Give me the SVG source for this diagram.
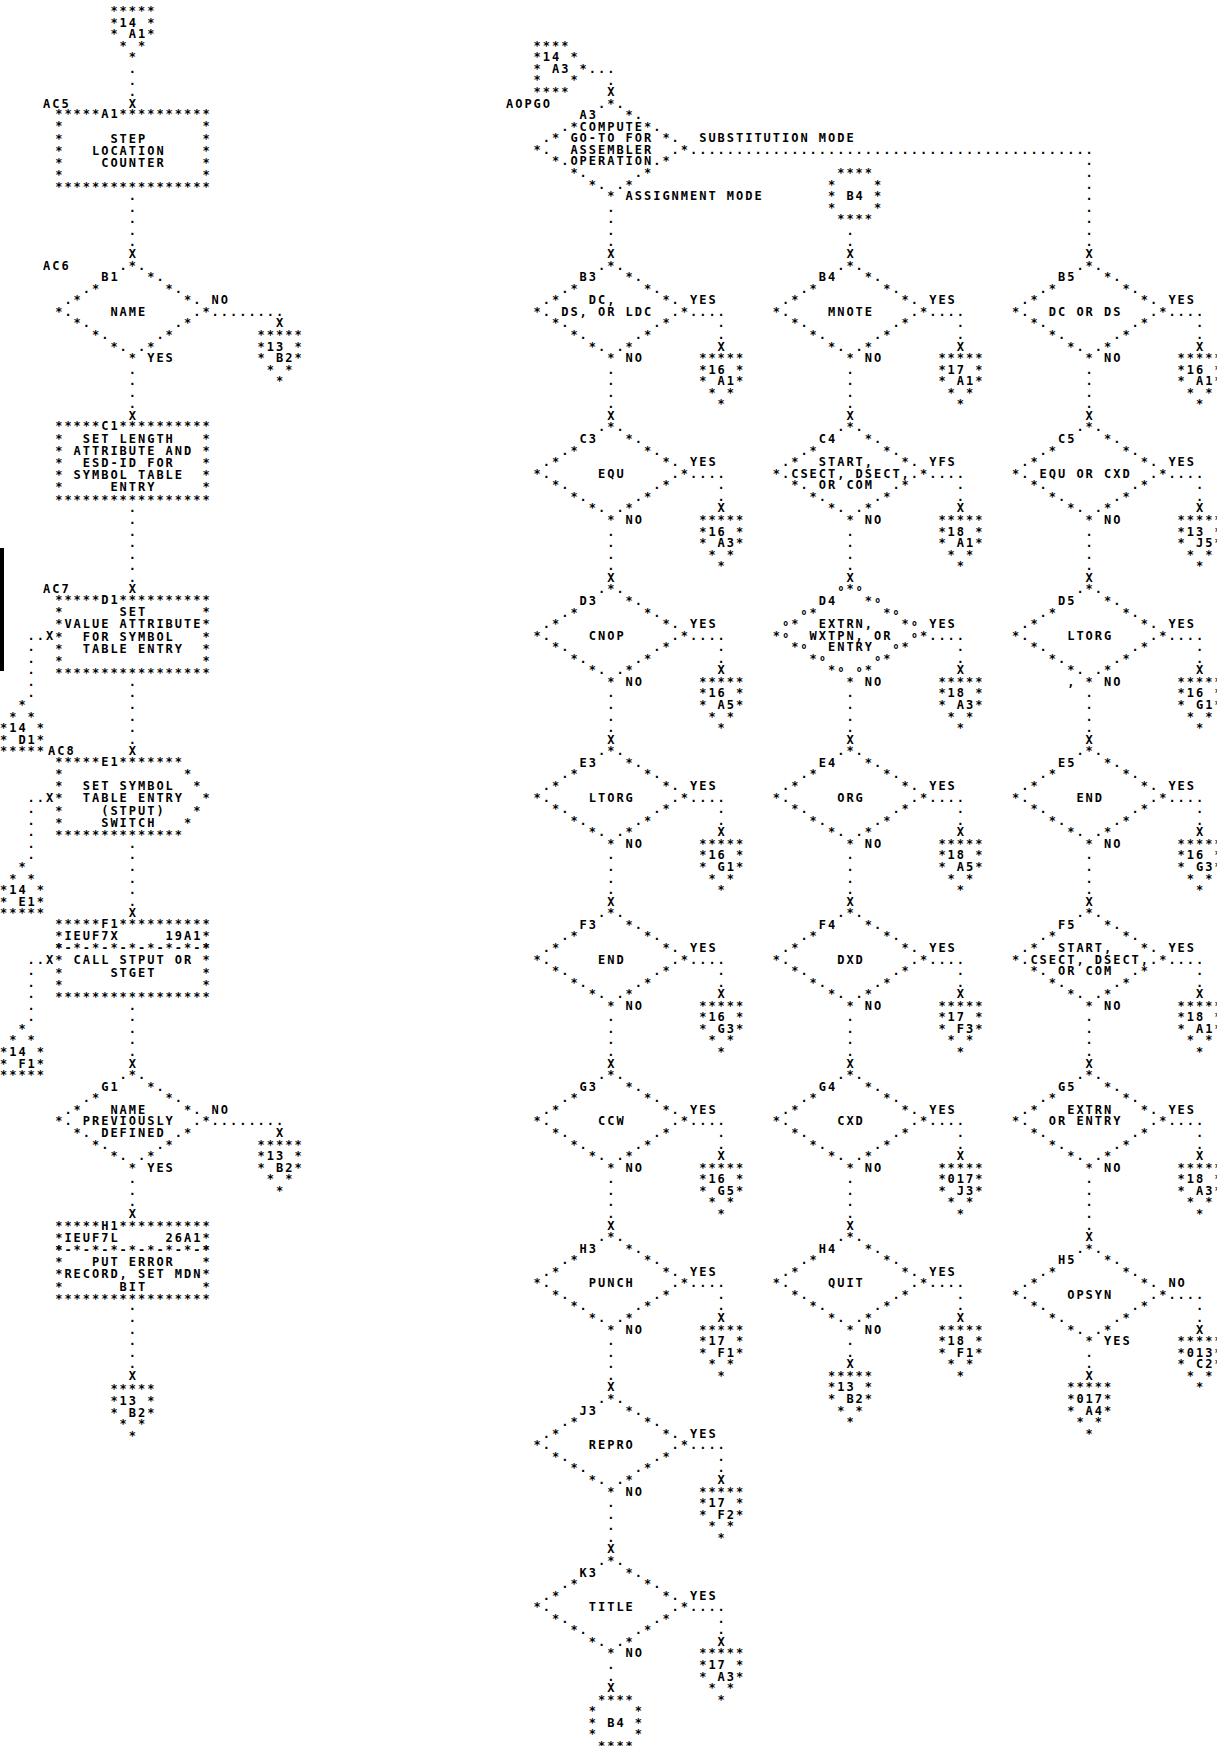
<svg xmlns="http://www.w3.org/2000/svg" width="1217" height="1746" viewBox="0 0 1217 1746">
<style>
.t{font-family:"DejaVu Sans Mono","Liberation Mono",monospace;font-size:12px;font-weight:bold;letter-spacing:1.975px;fill:#000}
.o{font-family:"DejaVu Sans Mono","Liberation Mono",monospace;font-size:8px;font-weight:bold;letter-spacing:4.4px;fill:#000}
</style>
<defs>
<g id="dia" class="t">
<text x="64.4" y="0">.*.</text>
<text x="92" y="11.566">*.</text>
<text x="27.6" y="23.132">.*</text><text x="110.4" y="23.132">*.</text>
<text x="9.2" y="34.698">.*</text><text x="128.8" y="34.698">*.</text>
<text x="0" y="46.264">*.</text><text x="138" y="46.264">.*</text>
<text x="18.4" y="57.83">*.</text><text x="119.6" y="57.83">.*</text>
<text x="36.8" y="69.396">*.</text><text x="101.2" y="69.396">.*</text>
<text x="55.2" y="80.962">*.</text><text x="82.8" y="80.962">.*</text>
<text x="73.6" y="92.528">*</text>
</g>
<g id="diaO" class="t">
<text x="73.6" y="0">*</text>
<text x="92" y="11.566">*</text>
<text x="36.8" y="23.132">*</text><text x="110.4" y="23.132">*</text>
<text x="18.4" y="34.698">*</text><text x="128.8" y="34.698">*</text>
<text x="0" y="46.264">*</text><text x="147.2" y="46.264">*</text>
<text x="18.4" y="57.83">*</text><text x="128.8" y="57.83">*</text>
<text x="36.8" y="69.396">*</text><text x="110.4" y="69.396">*</text>
<text x="55.2" y="80.962">*</text><text x="92" y="80.962">*</text>
<text x="73.6" y="92.528">*</text>
<text class="o" x="65.6 84 102.4 28.8 120.8 10.4 139.2 10.4 139.2 28.8 120.8 47.2 102.4 65.6 84" y="-2 -2 9.566 21.132 21.132 32.698 32.698 44.264 44.264 55.83 55.83 67.396 67.396 78.962 78.962">ooooooooooooooo</text>
</g>
<g id="bx" class="t">
<text x="0" y="12.2">*</text><text x="147.2" y="12.2">*</text>
<text x="0" y="24.4">*</text><text x="147.2" y="24.4">*</text>
<text x="0" y="36.6">*</text><text x="147.2" y="36.6">*</text>
<text x="0" y="48.8">*</text><text x="147.2" y="48.8">*</text>
<text x="0" y="61">*</text><text x="147.2" y="61">*</text>
<text x="0" y="73.2">*****************</text>
</g>
<g id="opd" class="t">
<text x="0" y="0">*****</text>
<text x="0" y="11.566">*</text><text x="36.8" y="11.566">*</text>
<text x="0" y="23.132">*</text><text x="36.8" y="23.132">*</text>
<text x="9.2" y="34.698">*</text><text x="27.6" y="34.698">*</text>
<text x="18.4" y="46.264">*</text>
</g>
<g id="opu" class="t">
<text x="18.4" y="0">*</text>
<text x="9.2" y="11.566">*</text><text x="27.6" y="11.566">*</text>
<text x="0" y="23.132">*</text><text x="36.8" y="23.132">*</text>
<text x="0" y="34.698">*</text><text x="36.8" y="34.698">*</text>
<text x="0" y="46.264">*****</text>
</g>
<g id="onp" class="t">
<text x="9.2" y="0">****</text>
<text x="0" y="11.566">*</text><text x="46" y="11.566">*</text>
<text x="0" y="23.132">*</text><text x="46" y="23.132">*</text>
<text x="0" y="34.698">*</text><text x="46" y="34.698">*</text>
<text x="9.2" y="46.264">****</text>
</g>
<g id="exitR" class="t">
<text x="156.4" y="46.264">....</text>
<text x="184" y="57.83">.</text>
<text x="184" y="69.396">.</text>
<text x="184" y="80.962">X</text>
</g>
<g id="exitD" class="t">
<text x="73.6" y="104.094">.</text>
<text x="73.6" y="115.66">.</text>
<text x="73.6" y="127.226">.</text>
<text x="73.6" y="138.792">.</text>
<text x="73.6" y="150.358">X</text>
</g>
<g id="exitL" class="t">
<text x="156.4" y="46.264">........</text>
<text x="220.8" y="57.83">X</text>
</g>
</defs>
<rect x="0" y="0" width="1217" height="1746" fill="#ffffff"/>
<rect x="0" y="548" width="4" height="123" fill="#000"/>
<g class="t">

<g id="connectors">
<text x="128.8 128.8 128.8 128.8" y="72.93 84.50 96.06 107.63">...X</text>
<text x="128.8 128.8 128.8 128.8 128.8 128.8" y="200.16 211.72 223.29 234.85 246.42 257.99">.....X</text>
<text x="128.8 128.8 128.8 128.8 128.8" y="373.65 385.21 396.78 408.34 419.91">....X</text>
<text x="128.8 128.8 128.8 128.8 128.8 128.8 128.8 128.8" y="512.44 524.00 535.57 547.14 558.70 570.27 581.83 593.40">.......X</text>
<text x="128.8 128.8 128.8 128.8 128.8 128.8 128.8" y="685.93 697.49 709.06 720.63 732.19 743.76 755.32">......X</text>
<text x="128.8 128.8 128.8 128.8 128.8 128.8 128.8" y="847.85 859.42 870.98 882.55 894.12 905.68 917.25">......X</text>
<text x="128.8 128.8 128.8 128.8 128.8 128.8" y="1009.78 1021.34 1032.91 1044.47 1056.04 1067.61">.....X</text>
<text x="128.8 128.8 128.8 128.8" y="1183.27 1194.83 1206.40 1217.96">...X</text>
<text x="128.8 128.8 128.8 128.8 128.8 128.8 128.8" y="1310.49 1322.06 1333.62 1345.19 1356.76 1368.32 1379.89">......X</text>
<text x="27.6" y="639.66">..X</text>
<text x="27.6 27.6 27.6 27.6 27.6" y="651.23 662.80 674.36 685.93 697.49">.....</text>
<text x="27.6" y="801.59">..X</text>
<text x="27.6 27.6 27.6 27.6 27.6" y="813.15 824.72 836.29 847.85 859.42">.....</text>
<text x="27.6" y="963.51">..X</text>
<text x="27.6 27.6 27.6 27.6 27.6" y="975.08 986.64 998.21 1009.78 1021.34">.....</text>
<use href="#exitL" x="55.2" y="269.55"/>
<use href="#exitL" x="55.2" y="1079.17"/>
<text x="588.8" y="72.93">...</text>
<text x="607.2 607.2" y="84.50 96.06">.X</text>
<text x="607.2 607.2 607.2 607.2 607.2" y="211.72 223.29 234.85 246.42 257.99">....X</text>
<text x="690" y="153.89">............................................</text>
<text x="1085.6 1085.6 1085.6 1085.6 1085.6 1085.6 1085.6 1085.6 1085.6" y="165.46 177.02 188.59 200.16 211.72 223.29 234.85 246.42 257.99">........X</text>
<text x="846.4 846.4 846.4" y="234.85 246.42 257.99">..X</text>
<use href="#exitR" x="533.6" y="269.55"/><use href="#exitR" x="533.6" y="431.48"/><use href="#exitR" x="533.6" y="593.40"/><use href="#exitR" x="533.6" y="755.32"/><use href="#exitR" x="533.6" y="917.25"/><use href="#exitR" x="533.6" y="1079.17"/><use href="#exitR" x="533.6" y="1241.10"/><use href="#exitR" x="533.6" y="1403.02"/><use href="#exitR" x="533.6" y="1564.94"/>
<use href="#exitR" x="772.8" y="269.55"/><use href="#exitR" x="772.8" y="431.48"/><use href="#exitR" x="772.8" y="593.40"/><use href="#exitR" x="772.8" y="755.32"/><use href="#exitR" x="772.8" y="917.25"/><use href="#exitR" x="772.8" y="1079.17"/><use href="#exitR" x="772.8" y="1241.10"/>
<use href="#exitR" x="1012" y="269.55"/><use href="#exitR" x="1012" y="431.48"/><use href="#exitR" x="1012" y="593.40"/><use href="#exitR" x="1012" y="755.32"/><use href="#exitR" x="1012" y="917.25"/><use href="#exitR" x="1012" y="1079.17"/><use href="#exitR" x="1012" y="1252.66"/>
<use href="#exitD" x="533.6" y="269.55"/><use href="#exitD" x="533.6" y="431.48"/><use href="#exitD" x="533.6" y="593.40"/><use href="#exitD" x="533.6" y="755.32"/><use href="#exitD" x="533.6" y="917.25"/><use href="#exitD" x="533.6" y="1079.17"/><use href="#exitD" x="533.6" y="1241.10"/><use href="#exitD" x="533.6" y="1403.02"/>
<use href="#exitD" x="772.8" y="269.55"/><use href="#exitD" x="772.8" y="431.48"/><use href="#exitD" x="772.8" y="593.40"/><use href="#exitD" x="772.8" y="755.32"/><use href="#exitD" x="772.8" y="917.25"/><use href="#exitD" x="772.8" y="1079.17"/>
<use href="#exitD" x="1012" y="269.55"/><use href="#exitD" x="1012" y="431.48"/><use href="#exitD" x="1012" y="593.40"/><use href="#exitD" x="1012" y="755.32"/><use href="#exitD" x="1012" y="917.25"/>
<text x="1085.6 1085.6 1085.6 1085.6 1085.6 1085.6" y="1183.27 1194.83 1206.40 1217.96 1229.53 1241.10">.....X</text>
<text x="846.4 846.4 846.4" y="1345.19 1356.76 1368.32">..X</text>
<text x="607.2 607.2 607.2" y="1669.04 1680.60 1692.17">..X</text>
<text x="1085.6 1085.6 1085.6" y="1356.76 1368.32 1379.89">..X</text>
</g>

<g id="off-14A1" transform="translate(110.4,15.1)"><use href="#opd"/><text x="9.2" y="11.566">14</text><text x="18.4" y="23.132">A1</text></g>
<g id="A1" transform="translate(55.2,118.19)"><use href="#bx"/>
<text x="-12.2" y="-10.566">AC5</text>
<text x="0" y="0">*****A1**********</text>
<text x="55.2" y="24.4">STEP</text>
<text x="36.8" y="36.6">LOCATION</text>
<text x="46" y="48.8">COUNTER</text>
</g>
<g id="B1" transform="translate(55.2,269.55)"><use href="#dia"/><text x="-12.2" y="0">AC6</text><text x="46" y="11.566">B1</text><text x="55.2" y="46.264">NAME</text><text x="156.4" y="34.698">NO</text><text x="92" y="92.528">YES</text></g>
<g id="off-B1-13B2" transform="translate(257.6,338.95)"><use href="#opd"/><text x="9.2" y="11.566">13</text><text x="18.4" y="23.132">B2</text></g>
<g id="C1" transform="translate(55.2,430.48)"><use href="#bx"/>
<text x="0" y="0">*****C1**********</text>
<text x="27.6" y="12.2">SET LENGTH</text>
<text x="18.4" y="24.4">ATTRIBUTE AND</text>
<text x="27.6" y="36.6">ESD-ID FOR</text>
<text x="18.4" y="48.8">SYMBOL TABLE</text>
<text x="55.2" y="61">ENTRY</text>
</g>
<g id="D1" transform="translate(55.2,603.97)"><use href="#bx"/>
<text x="-12.2" y="-10.566">AC7</text>
<text x="0" y="0">*****D1**********</text>
<text x="64.4" y="12.2">SET</text>
<text x="9.2" y="24.4">VALUE ATTRIBUTE</text>
<text x="27.6" y="36.6">FOR SYMBOL</text>
<text x="27.6" y="48.8">TABLE ENTRY</text>
</g>
<g id="off-14D1" transform="translate(0,709.06)"><use href="#opu"/><text x="9.2" y="23.132">14</text><text x="18.4" y="34.698">D1</text></g>
<g id="E1" transform="translate(55.2,765.89)">
<text x="-7.2" y="-10.566">AC8</text>
<text x="0" y="0">*****E1*******</text>
<text x="0" y="12.2">*</text><text x="128.8" y="12.2">*</text>
<text x="0" y="24.4">*</text><text x="27.6" y="24.4">SET SYMBOL</text><text x="138" y="24.4">*</text>
<text x="0" y="36.6">*</text><text x="27.6" y="36.6">TABLE ENTRY</text><text x="147.2" y="36.6">*</text>
<text x="0" y="48.8">*</text><text x="46" y="48.8">(STPUT)</text><text x="138" y="48.8">*</text>
<text x="0" y="61">*</text><text x="46" y="61">SWITCH</text><text x="128.8" y="61">*</text>
<text x="0" y="73.2">**************</text>
</g>
<g id="off-14E1" transform="translate(0,870.98)"><use href="#opu"/><text x="9.2" y="23.132">14</text><text x="18.4" y="34.698">E1</text></g>
<g id="F1" transform="translate(55.2,927.81)"><use href="#bx"/>
<text x="0" y="0">*****F1**********</text>
<text x="9.2" y="12.2">IEUF7X</text><text x="110.4" y="12.2">19A1</text>
<text x="0" y="24.4">*-*-*-*-*-*-*-*-*</text>
<text x="18.4" y="36.6">CALL STPUT OR</text>
<text x="55.2" y="48.8">STGET</text>
</g>
<g id="off-14F1" transform="translate(0,1032.91)"><use href="#opu"/><text x="9.2" y="23.132">14</text><text x="18.4" y="34.698">F1</text></g>
<g id="G1" transform="translate(55.2,1079.17)"><use href="#dia"/><text x="46" y="11.566">G1</text><text x="55.2" y="34.698">NAME</text><text x="27.6" y="46.264">PREVIOUSLY</text><text x="46" y="57.83">DEFINED</text><text x="156.4" y="34.698">NO</text><text x="92" y="92.528">YES</text></g>
<g id="off-G1-13B2" transform="translate(257.6,1148.57)"><use href="#opd"/><text x="9.2" y="11.566">13</text><text x="18.4" y="23.132">B2</text></g>
<g id="H1" transform="translate(55.2,1229.53)"><use href="#bx"/>
<text x="0" y="0">*****H1**********</text>
<text x="9.2" y="12.2">IEUF7L</text><text x="110.4" y="12.2">26A1</text>
<text x="0" y="24.4">*-*-*-*-*-*-*-*-*</text>
<text x="36.8" y="36.6">PUT ERROR</text>
<text x="9.2" y="48.8">RECORD, SET MDN</text>
<text x="64.4" y="61">BIT</text>
</g>
<g id="off-H1-13B2" transform="translate(110.4,1393.45)"><use href="#opd"/><text x="9.2" y="11.566">13</text><text x="18.4" y="23.132">B2</text></g>

<g id="on-14A3" transform="translate(533.6,49.80)">
<text x="0" y="0">****</text>
<text x="0" y="11.566">*14 *</text>
<text x="0" y="23.132">* A3 *</text>
<text x="0" y="34.698">*</text><text x="36.8" y="34.698">*</text>
<text x="0" y="46.264">****</text>
</g>
<g id="A3" transform="translate(533.6,107.63)"><use href="#dia"/><text x="-27.6" y="0">AOPGO</text><text x="46" y="11.566">A3</text><text x="46" y="23.132">COMPUTE</text><text x="36.8" y="34.698">GO-TO FOR</text><text x="36.8" y="46.264">ASSEMBLER</text><text x="36.8" y="57.83">OPERATION</text><text x="165.6" y="34.698">SUBSTITUTION MODE</text><text x="92" y="92.528">ASSIGNMENT MODE</text></g>
<g id="on-B4-top" transform="translate(828,177.02)"><use href="#onp"/><text x="18.4" y="23.132">B4</text></g>

<g id="B3" transform="translate(533.6,269.55)"><use href="#dia"/><text x="46" y="11.566">B3</text><text x="55.2" y="34.698">DC,</text><text x="27.6" y="46.264">DS, OR LDC</text><text x="156.4" y="34.698">YES</text><text x="92" y="92.528">NO</text></g>
<g id="C3" transform="translate(533.6,431.48)"><use href="#dia"/><text x="46" y="11.566">C3</text><text x="64.4" y="46.264">EQU</text><text x="156.4" y="34.698">YES</text><text x="92" y="92.528">NO</text></g>
<g id="D3" transform="translate(533.6,593.40)"><use href="#dia"/><text x="46" y="11.566">D3</text><text x="55.2" y="46.264">CNOP</text><text x="156.4" y="34.698">YES</text><text x="92" y="92.528">NO</text></g>
<g id="E3" transform="translate(533.6,755.32)"><use href="#dia"/><text x="46" y="11.566">E3</text><text x="55.2" y="46.264">LTORG</text><text x="156.4" y="34.698">YES</text><text x="92" y="92.528">NO</text></g>
<g id="F3" transform="translate(533.6,917.25)"><use href="#dia"/><text x="46" y="11.566">F3</text><text x="64.4" y="46.264">END</text><text x="156.4" y="34.698">YES</text><text x="92" y="92.528">NO</text></g>
<g id="G3" transform="translate(533.6,1079.17)"><use href="#dia"/><text x="46" y="11.566">G3</text><text x="64.4" y="46.264">CCW</text><text x="156.4" y="34.698">YES</text><text x="92" y="92.528">NO</text></g>
<g id="H3" transform="translate(533.6,1241.10)"><use href="#dia"/><text x="46" y="11.566">H3</text><text x="55.2" y="46.264">PUNCH</text><text x="156.4" y="34.698">YES</text><text x="92" y="92.528">NO</text></g>
<g id="J3" transform="translate(533.6,1403.02)"><use href="#dia"/><text x="46" y="11.566">J3</text><text x="55.2" y="46.264">REPRO</text><text x="156.4" y="34.698">YES</text><text x="92" y="92.528">NO</text></g>
<g id="K3" transform="translate(533.6,1564.94)"><use href="#dia"/><text x="46" y="11.566">K3</text><text x="55.2" y="46.264">TITLE</text><text x="156.4" y="34.698">YES</text><text x="92" y="92.528">NO</text></g>
<g id="on-B4-bottom" transform="translate(588.8,1703.74)"><use href="#onp"/><text x="18.4" y="23.132">B4</text></g>

<g id="B4" transform="translate(772.8,269.55)"><use href="#dia"/><text x="46" y="11.566">B4</text><text x="55.2" y="46.264">MNOTE</text><text x="156.4" y="34.698">YES</text><text x="92" y="92.528">NO</text></g>
<g id="C4" transform="translate(772.8,431.48)"><use href="#dia"/><text x="46" y="11.566">C4</text><text x="46" y="34.698">START,</text><text x="18.4" y="46.264">CSECT, DSECT,</text><text x="46" y="57.83">OR COM</text><text x="156.4" y="34.698">YFS</text><text x="92" y="92.528">NO</text></g>
<g id="D4" transform="translate(772.8,593.40)"><use href="#diaO"/><text x="46" y="11.566">D4</text><text x="46" y="34.698">EXTRN,</text><text x="36.8" y="46.264">WXTPN, OR</text><text x="55.2" y="57.83">ENTRY</text><text x="156.4" y="34.698">YES</text><text x="92" y="92.528">NO</text></g>
<g id="E4" transform="translate(772.8,755.32)"><use href="#dia"/><text x="46" y="11.566">E4</text><text x="64.4" y="46.264">ORG</text><text x="156.4" y="34.698">YES</text><text x="92" y="92.528">NO</text></g>
<g id="F4" transform="translate(772.8,917.25)"><use href="#dia"/><text x="46" y="11.566">F4</text><text x="64.4" y="46.264">DXD</text><text x="156.4" y="34.698">YES</text><text x="92" y="92.528">NO</text></g>
<g id="G4" transform="translate(772.8,1079.17)"><use href="#dia"/><text x="46" y="11.566">G4</text><text x="64.4" y="46.264">CXD</text><text x="156.4" y="34.698">YES</text><text x="92" y="92.528">NO</text></g>
<g id="H4" transform="translate(772.8,1241.10)"><use href="#dia"/><text x="46" y="11.566">H4</text><text x="55.2" y="46.264">QUIT</text><text x="156.4" y="34.698">YES</text><text x="92" y="92.528">NO</text></g>
<g id="off-H4-13B2" transform="translate(828,1379.89)"><use href="#opd"/><text x="9.2" y="11.566">13</text><text x="18.4" y="23.132">B2</text></g>

<g id="B5" transform="translate(1012,269.55)"><use href="#dia"/><text x="46" y="11.566">B5</text><text x="36.8" y="46.264">DC OR DS</text><text x="156.4" y="34.698">YES</text><text x="92" y="92.528">NO</text></g>
<g id="C5" transform="translate(1012,431.48)"><use href="#dia"/><text x="46" y="11.566">C5</text><text x="27.6" y="46.264">EQU OR CXD</text><text x="156.4" y="34.698">YES</text><text x="92" y="92.528">NO</text></g>
<g id="D5" transform="translate(1012,593.40)"><use href="#dia"/><text x="46" y="11.566">D5</text><text x="55.2" y="46.264">LTORG</text><text x="156.4" y="34.698">YES</text><text x="55.2" y="92.528">,</text><text x="92" y="92.528">NO</text></g>
<g id="E5" transform="translate(1012,755.32)"><use href="#dia"/><text x="46" y="11.566">E5</text><text x="64.4" y="46.264">END</text><text x="156.4" y="34.698">YES</text><text x="92" y="92.528">NO</text></g>
<g id="F5" transform="translate(1012,917.25)"><use href="#dia"/><text x="46" y="11.566">F5</text><text x="46" y="34.698">START,</text><text x="18.4" y="46.264">CSECT, DSECT,</text><text x="46" y="57.83">OR COM</text><text x="156.4" y="34.698">YES</text><text x="92" y="92.528">NO</text></g>
<g id="G5" transform="translate(1012,1079.17)"><use href="#dia"/><text x="46" y="11.566">G5</text><text x="55.2" y="34.698">EXTRN</text><text x="36.8" y="46.264">OR ENTRY</text><text x="156.4" y="34.698">YES</text><text x="92" y="92.528">NO</text></g>
<g id="H5" transform="translate(1012,1252.66)"><use href="#dia"/><text x="46" y="11.566">H5</text><text x="55.2" y="46.264">OPSYN</text><text x="156.4" y="34.698">NO</text><text x="92" y="92.528">YES</text></g>
<g id="off-H5-017A4" transform="translate(1067.2,1391.45)"><use href="#opd"/><text x="9.2" y="11.566">017</text><text x="18.4" y="23.132">A4</text></g>

<g id="off-B3" transform="translate(699.2,362.08)"><use href="#opd"/><text x="9.2" y="11.566">16</text><text x="18.4" y="23.132">A1</text></g>
<g id="off-C3" transform="translate(699.2,524.00)"><use href="#opd"/><text x="9.2" y="11.566">16</text><text x="18.4" y="23.132">A3</text></g>
<g id="off-D3" transform="translate(699.2,685.93)"><use href="#opd"/><text x="9.2" y="11.566">16</text><text x="18.4" y="23.132">A5</text></g>
<g id="off-E3" transform="translate(699.2,847.85)"><use href="#opd"/><text x="9.2" y="11.566">16</text><text x="18.4" y="23.132">G1</text></g>
<g id="off-F3" transform="translate(699.2,1009.78)"><use href="#opd"/><text x="9.2" y="11.566">16</text><text x="18.4" y="23.132">G3</text></g>
<g id="off-G3" transform="translate(699.2,1171.70)"><use href="#opd"/><text x="9.2" y="11.566">16</text><text x="18.4" y="23.132">G5</text></g>
<g id="off-H3" transform="translate(699.2,1333.62)"><use href="#opd"/><text x="9.2" y="11.566">17</text><text x="18.4" y="23.132">F1</text></g>
<g id="off-J3" transform="translate(699.2,1495.55)"><use href="#opd"/><text x="9.2" y="11.566">17</text><text x="18.4" y="23.132">F2</text></g>
<g id="off-K3" transform="translate(699.2,1657.47)"><use href="#opd"/><text x="9.2" y="11.566">17</text><text x="18.4" y="23.132">A3</text></g>
<g id="off-B4" transform="translate(938.4,362.08)"><use href="#opd"/><text x="9.2" y="11.566">17</text><text x="18.4" y="23.132">A1</text></g>
<g id="off-C4" transform="translate(938.4,524.00)"><use href="#opd"/><text x="9.2" y="11.566">18</text><text x="18.4" y="23.132">A1</text></g>
<g id="off-D4" transform="translate(938.4,685.93)"><use href="#opd"/><text x="9.2" y="11.566">18</text><text x="18.4" y="23.132">A3</text></g>
<g id="off-E4" transform="translate(938.4,847.85)"><use href="#opd"/><text x="9.2" y="11.566">18</text><text x="18.4" y="23.132">A5</text></g>
<g id="off-F4" transform="translate(938.4,1009.78)"><use href="#opd"/><text x="9.2" y="11.566">17</text><text x="18.4" y="23.132">F3</text></g>
<g id="off-G4" transform="translate(938.4,1171.70)"><use href="#opd"/><text x="9.2" y="11.566">017</text><text x="18.4" y="23.132">J3</text></g>
<g id="off-H4" transform="translate(938.4,1333.62)"><use href="#opd"/><text x="9.2" y="11.566">18</text><text x="18.4" y="23.132">F1</text></g>
<g id="off-B5" transform="translate(1177.6,362.08)"><use href="#opd"/><text x="9.2" y="11.566">16</text><text x="18.4" y="23.132">A1</text></g>
<g id="off-C5" transform="translate(1177.6,524.00)"><use href="#opd"/><text x="9.2" y="11.566">13</text><text x="18.4" y="23.132">J5</text></g>
<g id="off-D5" transform="translate(1177.6,685.93)"><use href="#opd"/><text x="9.2" y="11.566">16</text><text x="18.4" y="23.132">G1</text></g>
<g id="off-E5" transform="translate(1177.6,847.85)"><use href="#opd"/><text x="9.2" y="11.566">16</text><text x="18.4" y="23.132">G3</text></g>
<g id="off-F5" transform="translate(1177.6,1009.78)"><use href="#opd"/><text x="9.2" y="11.566">18</text><text x="18.4" y="23.132">A1</text></g>
<g id="off-G5" transform="translate(1177.6,1171.70)"><use href="#opd"/><text x="9.2" y="11.566">18</text><text x="18.4" y="23.132">A3</text></g>
<g id="off-H5" transform="translate(1177.6,1345.19)"><use href="#opd"/><text x="9.2" y="11.566">013</text><text x="18.4" y="23.132">C2</text></g>
</g>
</svg>
